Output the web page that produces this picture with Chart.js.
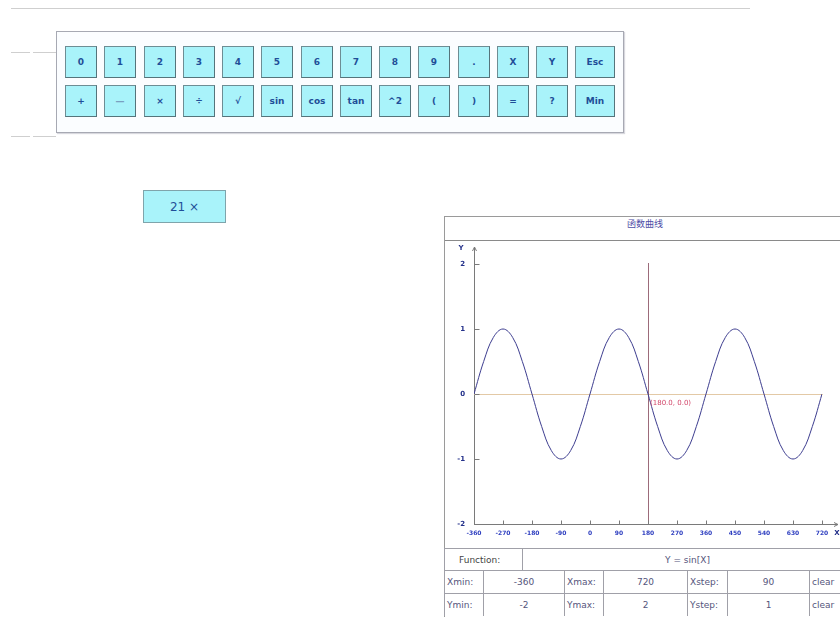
<!DOCTYPE html>
<html>
<head>
<meta charset="utf-8">
<script src="https://cdn.jsdelivr.net/npm/chart.js@4.4.0/dist/chart.umd.min.js"></script>
<style>
    body { margin: 0; width: 840px; height: 617px; overflow: hidden; position: relative; background: #fff; font-family: "DejaVu Sans", sans-serif; }
    .hl { position: absolute; height: 1px; background: #cfcfcf; }
    #pad { position: absolute; left: 56px; top: 31px; width: 568px; height: 102px; box-sizing: border-box; border: 1px solid #a7a9b3; background: #fbfdff; box-shadow: 1px 1px 1px #d8d8de; }
    .key { position: absolute; height: 32px; box-sizing: border-box; border: 1px solid #6d8d94; border-right-color: #55747b; border-bottom-color: #55747b; background: #a9f3fa; color: #1f4e98; font: bold 9px "DejaVu Sans", sans-serif; display: flex; align-items: center; justify-content: center; }
    #result { position: absolute; left: 143px; top: 190px; width: 83px; height: 33px; box-sizing: border-box; border: 1px solid #7fa4ab; background: #a9f3fa; color: #1f4e98; font: 12px "DejaVu Sans", sans-serif; display: flex; align-items: center; justify-content: center; }
    #panel { position: absolute; left: 444px; top: 216px; width: 402px; height: 420px; box-sizing: border-box; border: 1px solid #9a9a9a; background: #fff; }
    #title { position: absolute; left: 0; top: 0; right: 0; height: 23px; border-bottom: 1px solid #8a8a8a; text-align: center; line-height: 22px; font: 9px "Noto Sans CJK SC", sans-serif; color: #4d4da6; }
    #plot { position: absolute; left: 445px; top: 240px; }
    .cell { position: absolute; box-sizing: border-box; border-top: 1px solid #a0a0a8; border-left: 1px solid #a0a0a8; font: 9px "DejaVu Sans", sans-serif; color: #55557c; line-height: 22px; white-space: nowrap; overflow: hidden; }
</style>
</head>
<body>
<div class="hl" style="left:11px;top:8px;width:739px"></div>
<div class="hl" style="left:11px;top:52px;width:19px"></div>
<div class="hl" style="left:33px;top:52px;width:23px"></div>
<div class="hl" style="left:11px;top:136px;width:19px"></div>
<div class="hl" style="left:33px;top:136px;width:23px"></div>

<div id="pad"></div>
<div id="result">21 ×</div>

<div id="panel"><div id="title">函数曲线</div></div>
<canvas id="plot" width="395" height="307"></canvas>
<div id="table"></div>

<script>
// keypad labels
const keysRow1 = ['0', '1', '2', '3', '4', '5', '6', '7', '8', '9', '.', 'X', 'Y', 'Esc'];
const keysRow2 = ['+', '—', '×', '÷', '√', 'sin', 'cos', 'tan', '^2', '(', ')', '=', '?', 'Min'];

// sine curve (degrees)
const xDeg = [-360, -330, -300, -270, -240, -210, -180, -150, -120, -90, -60, -30,
              0, 30, 60, 90, 120, 150, 180, 210, 240, 270, 300, 330,
              360, 390, 420, 450, 480, 510, 540, 570, 600, 630, 660, 690, 720];
const yVal = [0, 0.5, 0.87, 1, 0.87, 0.5, 0, -0.5, -0.87, -1, -0.87, -0.5,
              0, 0.5, 0.87, 1, 0.87, 0.5, 0, -0.5, -0.87, -1, -0.87, -0.5,
              0, 0.5, 0.87, 1, 0.87, 0.5, 0, -0.5, -0.87, -1, -0.87, -0.5, 0];

// axis settings
const xMin = -360, xMax = 720, xStep = 90;
const yMin = -2, yMax = 2, yStep = 1;
const cursorX = 180, cursorY = 0;

// settings table
const funcText = 'Y = sin[X]';
const rowX = ['Xmin:', '-360', 'Xmax:', '720', 'Xstep:', '90', 'clear'];
const rowY = ['Ymin:', '-2', 'Ymax:', '2', 'Ystep:', '1', 'clear'];

// build keypad
function addKeys(labels, top) {
    labels.forEach((label, i) => {
        const k = document.createElement('div');
        k.className = 'key';
        k.textContent = label;
        k.style.left = Math.round(65 + i * 39.25) + 'px';
        k.style.top = top + 'px';
        k.style.width = (i === 13 ? 40 : 32) + 'px';
        if (label === '—') k.style.color = '#7aa0c0';
        document.body.appendChild(k);
    });
}
addKeys(keysRow1, 46);
addKeys(keysRow2, 85);

// build table
const table = document.getElementById('table');
function addCell(left, top, width, text, align) {
    const c = document.createElement('div');
    c.className = 'cell';
    c.style.left = left + 'px';
    c.style.top = top + 'px';
    c.style.width = width + 'px';
    c.style.height = '23px';
    c.style.textAlign = align;
    c.style.paddingLeft = align === 'left' ? '2px' : '0';
    c.textContent = text;
    table.appendChild(c);
    return c;
}
const f = addCell(444, 548, 78, 'Function:', 'left');
f.style.paddingLeft = '14px';
f.style.color = '#444';
addCell(522, 548, 330, funcText, 'center');
const colEdges = [444, 483, 564, 603, 687, 727, 809, 852];
[rowX, rowY].forEach((row, r) => {
    row.forEach((text, i) => {
        addCell(colEdges[i], 570 + r * 23, colEdges[i + 1] - colEdges[i], text, i % 2 === 0 ? 'left' : 'center');
    });
});

// extra drawing: axis arrows, inward ticks, cursor cross-hair and label
const plotExtras = {
    id: 'plotExtras',
    beforeDatasetsDraw(chart) {
        const { ctx, chartArea, scales: { x, y } } = chart;
        ctx.save();
        // horizontal line at y = 0
        ctx.strokeStyle = '#e3c9a6';
        ctx.lineWidth = 1;
        const y0 = Math.round(y.getPixelForValue(cursorY)) + 0.5;
        ctx.beginPath();
        ctx.moveTo(chartArea.left, y0);
        ctx.lineTo(chartArea.right + 1, y0);
        ctx.stroke();
        // vertical cursor line
        const xc = Math.round(x.getPixelForValue(cursorX)) + 0.5;
        ctx.strokeStyle = '#9c6b7a';
        ctx.beginPath();
        ctx.moveTo(xc, chartArea.top - 1);
        ctx.lineTo(xc, chartArea.bottom);
        ctx.stroke();
        ctx.restore();
    },
    afterDraw(chart) {
        const { ctx, chartArea, scales: { x, y } } = chart;
        ctx.save();
        ctx.strokeStyle = '#7a7a7a';
        ctx.lineWidth = 1;
        const ax = Math.round(chartArea.left) + 0.5;
        const ay = Math.round(chartArea.bottom) + 0.5;
        // y axis extension + arrow
        ctx.beginPath();
        ctx.moveTo(ax, chartArea.top);
        ctx.lineTo(ax, chartArea.top - 17);
        ctx.moveTo(ax - 2, chartArea.top - 13);
        ctx.lineTo(ax, chartArea.top - 17);
        ctx.lineTo(ax + 2, chartArea.top - 13);
        // x axis extension + arrow
        ctx.moveTo(chartArea.right, ay);
        ctx.lineTo(chartArea.right + 16, ay);
        ctx.moveTo(chartArea.right + 12, ay - 2);
        ctx.lineTo(chartArea.right + 16, ay);
        ctx.lineTo(chartArea.right + 12, ay + 2);
        // inward ticks
        y.ticks.forEach(t => {
            const py = Math.round(y.getPixelForValue(t.value)) + 0.5;
            ctx.moveTo(ax, py);
            ctx.lineTo(ax + 5, py);
        });
        x.ticks.forEach(t => {
            const px = Math.round(x.getPixelForValue(t.value)) + 0.5;
            ctx.moveTo(px, ay);
            ctx.lineTo(px, ay - 4);
        });
        ctx.stroke();
        // axis names
        ctx.fillStyle = '#23308a';
        ctx.font = 'bold 7px "DejaVu Sans"';
        ctx.textAlign = 'center';
        ctx.textBaseline = 'middle';
        ctx.fillText('Y', chartArea.left - 13, chartArea.top - 16);
        ctx.fillText('X', chartArea.right + 15, ay + 9);
        // cursor label
        ctx.fillStyle = '#d2476a';
        ctx.font = '7px "DejaVu Sans"';
        ctx.textAlign = 'left';
        ctx.fillText('(' + cursorX.toFixed(1) + ', ' + cursorY.toFixed(1) + ')',
            x.getPixelForValue(cursorX) + 2, y.getPixelForValue(cursorY) + 9);
        ctx.restore();
    }
};

new Chart(document.getElementById('plot').getContext('2d'), {
    type: 'line',
    data: {
        datasets: [{
            data: xDeg.map((v, i) => ({ x: v, y: yVal[i] })),
            borderColor: '#3d3d8f',
            borderWidth: 1,
            pointRadius: 0,
            tension: 0.4,
            fill: false
        }]
    },
    options: {
        responsive: false,
        animation: false,
        devicePixelRatio: 1,
        layout: { padding: { left: 0, right: 18, top: 24, bottom: 2 } },
        plugins: { legend: { display: false }, tooltip: { enabled: false } },
        scales: {
            x: {
                type: 'linear',
                min: xMin,
                max: xMax,
                afterFit: axis => { axis.height = 21; },
                grid: { display: false, drawTicks: false, tickLength: 0 },
                border: { display: true, color: '#7a7a7a', width: 1 },
                ticks: { stepSize: xStep, padding: 6, color: '#3040c0', font: { size: 6, weight: 'bold', family: 'DejaVu Sans' }, maxRotation: 0, autoSkip: false }
            },
            y: {
                min: yMin,
                max: yMax,
                afterFit: axis => { axis.width = 29; },
                grid: { display: false, drawTicks: false, tickLength: 0 },
                border: { display: true, color: '#7a7a7a', width: 1 },
                ticks: { stepSize: yStep, padding: 9, color: '#23308a', font: { size: 7, weight: 'bold', family: 'DejaVu Sans' } }
            }
        }
    },
    plugins: [plotExtras]
});
</script>
</body>
</html>
